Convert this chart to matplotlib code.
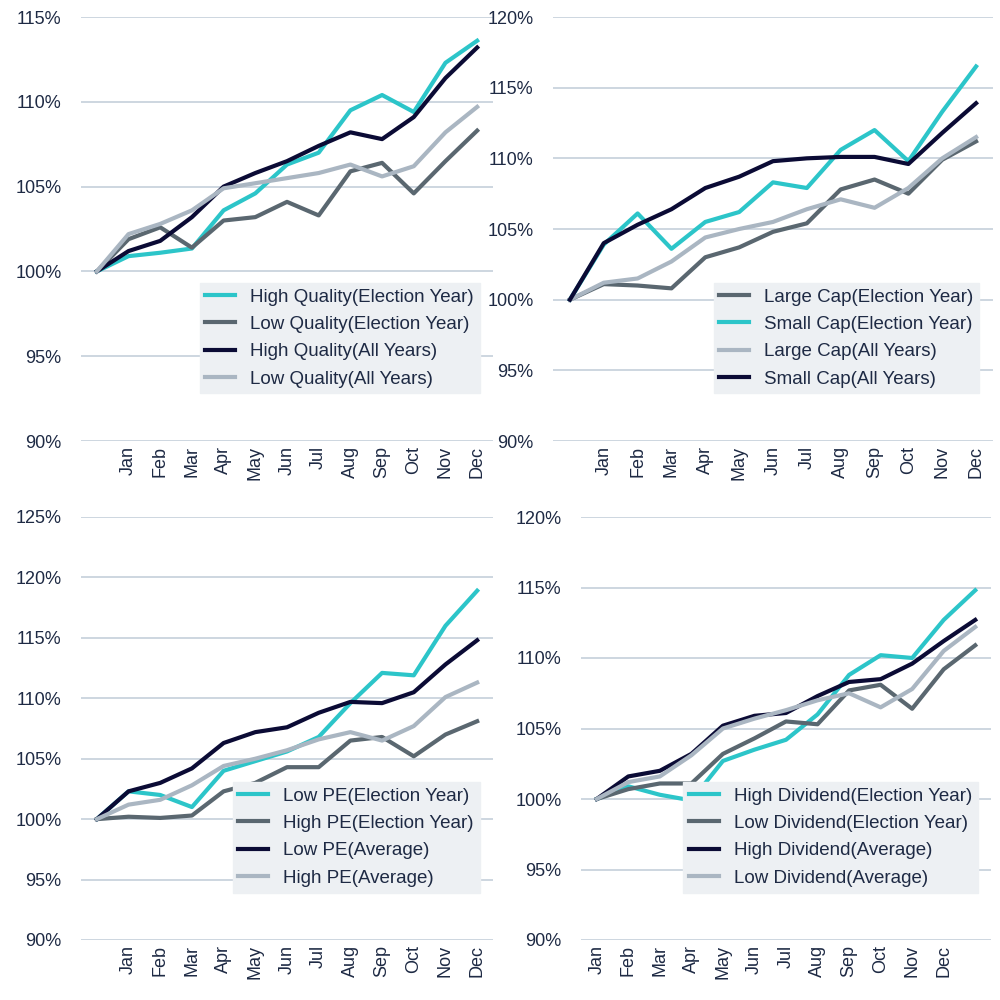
import matplotlib
matplotlib.use("Agg")
import matplotlib.pyplot as plt

months = ["Jan","Feb","Mar","Apr","May","Jun","Jul","Aug","Sep","Oct","Nov","Dec"]
labels_a = [""] + months          # panels with start point before Jan
labels_d = months + [""]          # last panel: Jan at first point

hq_e = [100,100.9,101.1,101.35,103.6,104.6,106.3,107.0,109.5,110.4,109.4,112.3,113.6]
lq_e = [100,101.9,102.6,101.4,103.0,103.2,104.1,103.3,105.9,106.4,104.6,106.5,108.3]
hq_a = [100,101.2,101.8,103.2,105.0,105.8,106.5,107.4,108.2,107.8,109.1,111.4,113.2]
lq_a = [100,102.2,102.8,103.6,104.9,105.2,105.5,105.8,106.3,105.6,106.2,108.2,109.7]

lc_e = [100,101.1,101.0,100.8,103.0,103.7,104.8,105.4,107.8,108.5,107.5,109.9,111.2]
sc_e = [100,103.9,106.1,103.6,105.5,106.2,108.3,107.9,110.6,112.0,109.8,113.3,116.5]
lc_a = [100,101.2,101.5,102.7,104.4,105.0,105.5,106.4,107.1,106.5,107.9,110.0,111.5]
sc_a = [100,104.0,105.3,106.4,107.9,108.7,109.8,110.0,110.1,110.1,109.6,111.8,113.9]

lpe_e = [100,102.3,102.0,101.0,104.0,104.8,105.6,106.8,109.6,112.1,111.9,116.0,118.9]
hpe_e = [100,100.2,100.1,100.3,102.3,103.0,104.3,104.3,106.5,106.8,105.2,107.0,108.1]
lpe_a = [100,102.3,103.0,104.2,106.3,107.2,107.6,108.8,109.7,109.6,110.5,112.8,114.8]
hpe_a = [100,101.2,101.6,102.8,104.4,105.0,105.7,106.6,107.2,106.5,107.7,110.1,111.3]

hd_e = [100,100.9,100.3,99.9,102.7,103.5,104.2,106.0,108.8,110.2,110.0,112.7,114.8]
ld_e = [100,100.7,101.1,101.1,103.2,104.3,105.5,105.3,107.7,108.1,106.4,109.2,110.9]
hd_a = [100,101.6,102.0,103.2,105.2,105.9,106.1,107.3,108.3,108.5,109.6,111.2,112.7]
ld_a = [100,101.2,101.6,103.1,105.0,105.7,106.3,107.0,107.5,106.5,107.8,110.5,112.2]

CY, DG, NV, LG = "#2CC5C9", "#5A6770", "#0B0B35", "#AAB6C2"
TXT = "#1E2A44"
plt.rcParams['font.family'] = ['Liberation Sans', 'DejaVu Sans']

fig = plt.figure(figsize=(10, 10), dpi=100)
panels = [
    ([0.081, 0.559, 0.412, 0.424], (90, 115), labels_a,
     [(hq_e, CY, "High Quality(Election Year)"), (lq_e, DG, "Low Quality(Election Year)"),
      (hq_a, NV, "High Quality(All Years)"), (lq_a, LG, "Low Quality(All Years)")], 0),
    ([0.553, 0.559, 0.44, 0.424], (90, 120), labels_a,
     [(lc_e, DG, "Large Cap(Election Year)"), (sc_e, CY, "Small Cap(Election Year)"),
      (lc_a, LG, "Large Cap(All Years)"), (sc_a, NV, "Small Cap(All Years)")], 1),
    ([0.081, 0.06, 0.412, 0.423], (90, 125), labels_a,
     [(lpe_e, CY, "Low PE(Election Year)"), (hpe_e, DG, "High PE(Election Year)"),
      (lpe_a, NV, "Low PE(Average)"), (hpe_a, LG, "High PE(Average)")], 2),
    ([0.581, 0.06, 0.41, 0.423], (90, 120), labels_d,
     [(hd_e, CY, "High Dividend(Election Year)"), (ld_e, DG, "Low Dividend(Election Year)"),
      (hd_a, NV, "High Dividend(Average)"), (ld_a, LG, "Low Dividend(Average)")], 3),
]
for rect, ylim, xl, series, idx in panels:
    ax = fig.add_axes(rect)
    x = list(range(len(xl)))
    for vals, c, lab in series:
        ax.plot(x, vals, color=c, lw=3, label=lab)
    ax.set_ylim(*ylim)
    ax.set_yticks(range(ylim[0], ylim[1] + 1, 5))
    ax.set_yticklabels([f"{v}%" for v in range(ylim[0], ylim[1] + 1, 5)])
    ax.set_xlim(-0.5, 12.5)
    ax.set_xticks(x)
    ax.set_xticklabels(xl, rotation=90)
    ax.tick_params(length=0, labelsize=13, labelcolor=TXT)
    ax.tick_params(axis='y', pad=14)
    ax.grid(axis='y', color="#C5D0DA", lw=1.2)
    ax.set_axisbelow(True)
    for s in ax.spines.values():
        s.set_visible(False)
    leg = ax.legend(loc="lower right", bbox_to_anchor=(0.99, 0.09), fontsize=13.5,
                    frameon=True, fancybox=False, facecolor="#EDF0F3", edgecolor="#EDF0F3",
                    framealpha=1, handlelength=1.6, labelspacing=0.55, borderpad=0.3)
    for t in leg.get_texts():
        t.set_color(TXT)

fig.savefig("out.png", dpi=100)
